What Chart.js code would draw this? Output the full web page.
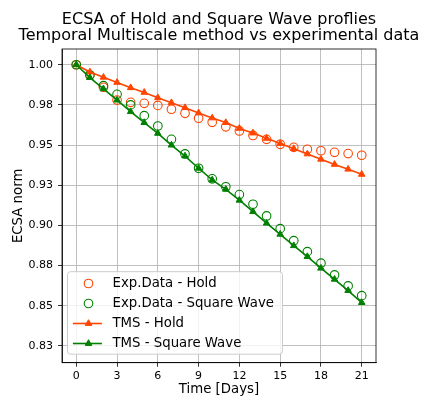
<!DOCTYPE html>
<html>
<head>
<meta charset="utf-8">
<script src="https://cdn.jsdelivr.net/npm/chart.js@4.4.0/dist/chart.umd.min.js"></script>
<style>
  html, body { margin: 0; padding: 0; background: #fff; }
  #wrap { position: relative; width: 422px; height: 399px; }
</style>
</head>
<body>
<div id="wrap"><canvas id="myChart" width="422" height="399"></canvas></div>
<script>
// data
const days = [0, 1, 2, 3, 4, 5, 6, 7, 8, 9, 10, 11, 12, 13, 14, 15, 16, 17, 18, 19, 20, 21];
const expHold = [1.000, 0.9936, 0.986, 0.978, 0.9766, 0.976, 0.9747, 0.9723, 0.9698, 0.9667, 0.9642,
  0.9614, 0.9588, 0.956, 0.9536, 0.9505, 0.9486, 0.9474, 0.9465, 0.9455, 0.9447, 0.9437];
const expSquare = [1.000, 0.9936, 0.987, 0.9816, 0.975, 0.9683, 0.9619, 0.9536, 0.9445, 0.9356, 0.929,
  0.9241, 0.9192, 0.9132, 0.9059, 0.898, 0.8905, 0.8837, 0.8765, 0.8692, 0.8624, 0.8563];
const tmsHold = [1.000, 0.9955, 0.9922, 0.989, 0.9857, 0.9828, 0.9795, 0.9764, 0.9733, 0.970, 0.9669,
  0.964, 0.9604, 0.9575, 0.9542, 0.951, 0.9478, 0.9445, 0.9412, 0.938, 0.935, 0.9318];
const tmsSquare = [1.000, 0.992, 0.985, 0.978, 0.9708, 0.964, 0.9573, 0.950, 0.9432, 0.9356, 0.9283,
  0.9225, 0.9157, 0.9086, 0.9014, 0.8945, 0.8874, 0.8806, 0.8734, 0.8665, 0.8595, 0.852];

const xTicks = [0, 3, 6, 9, 12, 15, 18, 21];
const yTicks = [0.825, 0.85, 0.875, 0.9, 0.925, 0.95, 0.975, 1.0];
const yTickLabels = ['0.83', '0.85', '0.88', '0.90', '0.93', '0.95', '0.98', '1.00'];

const seriesNames = ['Exp.Data - Hold', 'Exp.Data - Square Wave', 'TMS - Hold', 'TMS - Square Wave'];
const titleLines = ['ECSA of Hold and Square Wave proflies', 'Temporal Multiscale method vs experimental data'];

const ORANGE = '#ff4500';
const GREEN = '#008000';
const FONT = "'DejaVu Sans', sans-serif";

function pts(ys) {
  return days.map((d, i) => ({ x: d, y: ys[i] }));
}

// title centred over the axes, black frame, legend box inside the axes
const framePlugin = {
  id: 'frame',
  afterDatasetsDraw(chart) {
    const ctx = chart.ctx;
    const a = chart.chartArea;
    ctx.save();
    ctx.strokeStyle = '#000';
    ctx.lineWidth = 0.8;
    ctx.strokeRect(a.left, a.top, a.right - a.left, a.bottom - a.top);

    // title
    ctx.fillStyle = '#000';
    ctx.font = '16px ' + FONT;
    ctx.textAlign = 'center';
    ctx.textBaseline = 'middle';
    const cx = (a.left + a.right) / 2;
    titleLines.forEach((t, i) => ctx.fillText(t, cx, a.top - 29 + i * 15.5));

    // legend
    const bx = a.left + 5.5, bw = 215, bh = 82.5;
    const by = a.bottom - 8.5 - bh;
    ctx.beginPath();
    ctx.roundRect(bx, by, bw, bh, 3);
    ctx.fillStyle = 'rgba(255,255,255,0.8)';
    ctx.fill();
    ctx.strokeStyle = '#cccccc';
    ctx.lineWidth = 1;
    ctx.stroke();

    const colors = [ORANGE, GREEN, ORANGE, GREEN];
    ctx.font = '13.3px ' + FONT;
    ctx.textBaseline = 'middle';
    ctx.textAlign = 'left';
    for (let i = 0; i < seriesNames.length; i++) {
      const cy = by + 11.8 + i * 20;
      const mx = bx + 21;
      if (i < 2) {
        ctx.beginPath();
        ctx.arc(mx, cy, 4.3, 0, Math.PI * 2);
        ctx.strokeStyle = colors[i];
        ctx.lineWidth = 1.1;
        ctx.stroke();
      } else {
        ctx.beginPath();
        ctx.moveTo(bx + 5.4, cy);
        ctx.lineTo(bx + 34.4, cy);
        ctx.strokeStyle = colors[i];
        ctx.lineWidth = 1.6;
        ctx.stroke();
        const r = 3.8;
        ctx.beginPath();
        ctx.moveTo(mx, cy - r);
        ctx.lineTo(mx + 0.866 * r, cy + 0.5 * r);
        ctx.lineTo(mx - 0.866 * r, cy + 0.5 * r);
        ctx.closePath();
        ctx.fillStyle = colors[i];
        ctx.fill();
        ctx.lineWidth = 1;
        ctx.stroke();
      }
      ctx.fillStyle = '#000';
      ctx.fillText(seriesNames[i], bx + 45, cy + 0.5);
    }
    ctx.restore();
  }
};

const dato = {
  datasets: [
    {
      label: seriesNames[0],
      data: pts(expHold),
      showLine: false,
      pointStyle: 'circle',
      pointRadius: 4.3,
      pointBorderWidth: 1.1,
      borderColor: ORANGE,
      backgroundColor: 'rgba(0,0,0,0)',
      order: 4
    },
    {
      label: seriesNames[1],
      data: pts(expSquare),
      showLine: false,
      pointStyle: 'circle',
      pointRadius: 4.3,
      pointBorderWidth: 1.1,
      borderColor: GREEN,
      backgroundColor: 'rgba(0,0,0,0)',
      order: 3
    },
    {
      label: seriesNames[2],
      data: pts(tmsHold),
      showLine: true,
      borderWidth: 1.6,
      pointStyle: 'triangle',
      pointRadius: 3.8,
      pointBorderWidth: 1,
      borderColor: ORANGE,
      backgroundColor: ORANGE,
      order: 2
    },
    {
      label: seriesNames[3],
      data: pts(tmsSquare),
      showLine: true,
      borderWidth: 1.6,
      pointStyle: 'triangle',
      pointRadius: 3.8,
      pointBorderWidth: 1,
      borderColor: GREEN,
      backgroundColor: GREEN,
      order: 1
    }
  ]
};

const config = {
  type: 'scatter',
  data: dato,
  options: {
    responsive: false,
    animation: false,
    devicePixelRatio: 1,
    layout: { padding: { left: 0, right: 46, top: 49, bottom: 0 } },
    plugins: {
      legend: { display: false },
      tooltip: { enabled: false },
      title: { display: false }
    },
    scales: {
      x: {
        type: 'linear',
        min: -1.05,
        max: 22.05,
        afterBuildTicks: (s) => { s.ticks = xTicks.map(v => ({ value: v })); },
        afterFit: (s) => { s.height = 36.3; },
        ticks: {
          color: '#000',
          font: { family: FONT, size: 11 },
          padding: 3,
          maxRotation: 0,
          autoSkip: false
        },
        grid: { color: '#b0b0b0', lineWidth: 0.8, tickColor: '#000', tickLength: 4, tickWidth: 0.8 },
        border: { display: true, color: '#000', width: 0.8 },
        title: {
          display: true,
          text: 'Time [Days]',
          color: '#000',
          font: { family: FONT, size: 13.3, lineHeight: 1.2 },
          padding: { top: 0, bottom: 1 }
        }
      },
      y: {
        type: 'linear',
        min: 0.8146,
        max: 1.0098,
        afterBuildTicks: (s) => { s.ticks = yTicks.map(v => ({ value: v })); },
        afterFit: (s) => { s.width = 62; },
        ticks: {
          color: '#000',
          font: { family: FONT, size: 11 },
          padding: 5,
          autoSkip: false,
          callback: (v, i) => yTickLabels[i]
        },
        grid: { color: '#b0b0b0', lineWidth: 0.8, tickColor: '#000', tickLength: 4, tickWidth: 0.8 },
        border: { display: true, color: '#000', width: 0.8 },
        title: {
          display: true,
          text: 'ECSA norm',
          color: '#000',
          font: { family: FONT, size: 13.3, lineHeight: 1.2 },
          padding: { top: 11, bottom: 0 }
        }
      }
    }
  },
  plugins: [framePlugin]
};

const myChart = new Chart(document.getElementById('myChart'), config);
</script>
</body>
</html>
